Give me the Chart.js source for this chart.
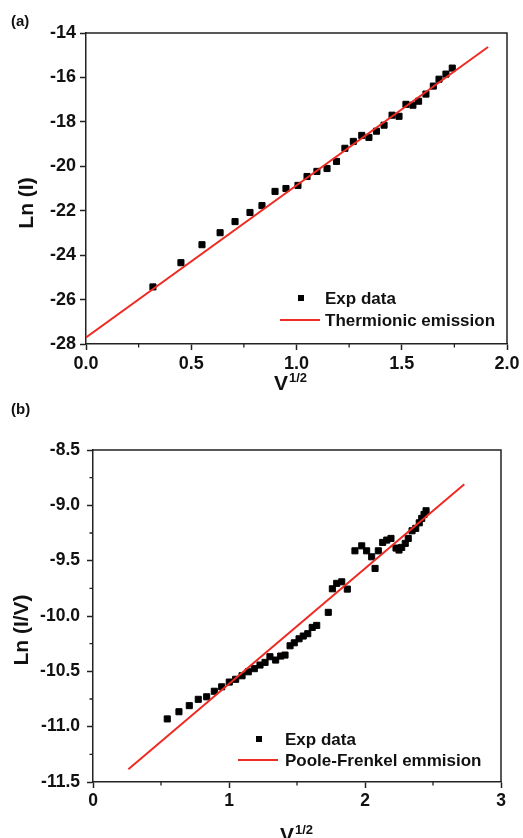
<!DOCTYPE html>
<html>
<head>
<meta charset="utf-8">
<script src="https://cdn.jsdelivr.net/npm/chart.js@4.4.1/dist/chart.umd.min.js"></script>
<style>
  html, body { margin: 0; padding: 0; background: #fff; }
  canvas { position: absolute; left: 0; }
  #chartA { top: 0; }
  #chartB { top: 400px; }
</style>
</head>
<body>
<canvas id="chartA" width="523" height="400"></canvas>
<canvas id="chartB" width="523" height="438"></canvas>
<script>
// ---- panel (a): Ln(I) vs V^1/2, thermionic emission fit
const expXa = [0.318, 0.451, 0.551, 0.637, 0.708, 0.779, 0.836, 0.898, 0.950, 1.007,
  1.050, 1.097, 1.145, 1.190, 1.230, 1.270, 1.310, 1.344, 1.380, 1.416,
  1.454, 1.487, 1.520, 1.553, 1.580, 1.615, 1.650, 1.677, 1.710, 1.740];
const expYa = [-25.43, -24.34, -23.53, -22.99, -22.49, -22.08, -21.77, -21.13, -21.00, -20.86,
  -20.46, -20.23, -20.10, -19.78, -19.19, -18.88, -18.61, -18.70, -18.42, -18.15,
  -17.70, -17.75, -17.21, -17.25, -17.07, -16.75, -16.39, -16.08, -15.85, -15.58];
const fitXa = [0, 1.91];
const fitYa = [-27.71, -14.63];
const xTicksA = [0, 0.5, 1.0, 1.5, 2.0];
const xMinorA = [0.25, 0.75, 1.25, 1.75];
const yTicksA = [-28, -26, -24, -22, -20, -18, -16, -14];

// ---- panel (b): Ln(I/V) vs V^1/2, Poole-Frenkel fit
const expXb = [0.546, 0.632, 0.708, 0.774, 0.836, 0.892, 0.946, 1.002, 1.049, 1.096,
  1.142, 1.186, 1.228, 1.265, 1.301, 1.343, 1.380, 1.412, 1.449, 1.480,
  1.515, 1.546, 1.579, 1.612, 1.645, 1.730, 1.760, 1.792, 1.829, 1.870,
  1.926, 1.976, 2.012, 2.049, 2.074, 2.098, 2.130, 2.160, 2.191, 2.228,
  2.250, 2.270, 2.296, 2.318, 2.346, 2.373, 2.399, 2.417, 2.434, 2.449];
const expYb = [-10.93, -10.865, -10.81, -10.753, -10.73, -10.68, -10.64, -10.597, -10.572, -10.54,
  -10.504, -10.476, -10.443, -10.419, -10.368, -10.398, -10.362, -10.353, -10.269, -10.242,
  -10.206, -10.181, -10.160, -10.103, -10.085, -9.967, -9.754, -9.705, -9.691, -9.757,
  -9.411, -9.366, -9.411, -9.465, -9.570, -9.411, -9.335, -9.314, -9.299, -9.386,
  -9.404, -9.380, -9.344, -9.299, -9.230, -9.208, -9.158, -9.118, -9.082, -9.049];
const fitXb = [0.26, 2.73];
const fitYb = [-11.385, -8.81];
const xTicksB = [0, 1, 2, 3];
const xMinorB = [0.5, 1.5, 2.5];
const yTicksB = [-11.5, -11.0, -10.5, -10.0, -9.5, -9.0, -8.5];
const yMinorB = [-11.25, -10.75, -10.25, -9.75, -9.25, -8.75];

const RED = '#ee2a22';
const AXIS = '#222';
const FONT = '"Liberation Sans", Arial, sans-serif';

Chart.defaults.font.family = FONT;
Chart.defaults.color = '#111';

const toPts = (xs, ys) => xs.map((x, i) => ({ x, y: ys[i] }));

// frame, minor ticks, legend and titles
const panelDecor = {
  id: 'panelDecor',
  afterDraw(chart, args, o) {
    const { ctx, chartArea: a } = chart;
    const xs = chart.scales.x, ys = chart.scales.y;
    ctx.save();
    ctx.strokeStyle = AXIS;
    ctx.lineWidth = 1.5;
    ctx.beginPath();
    ctx.moveTo(a.left, a.top);
    ctx.lineTo(a.right, a.top);
    ctx.lineTo(a.right, a.bottom);
    ctx.stroke();

    ctx.lineWidth = 1.3;
    ctx.beginPath();
    o.xMinor.forEach(v => {
      const px = xs.getPixelForValue(v);
      ctx.moveTo(px, a.bottom);
      ctx.lineTo(px, a.bottom + 3.5);
    });
    o.yMinor.forEach(v => {
      const py = ys.getPixelForValue(v);
      ctx.moveTo(a.left, py);
      ctx.lineTo(a.left - 3.5, py);
    });
    ctx.stroke();

    // legend
    const L = o.legend;
    ctx.fillStyle = '#000';
    ctx.fillRect(L.x - 3, L.y1 - 3, 6, 6);
    ctx.strokeStyle = RED;
    ctx.lineWidth = 2;
    ctx.beginPath();
    ctx.moveTo(L.x - 21, L.y2);
    ctx.lineTo(L.x + 19, L.y2);
    ctx.stroke();
    ctx.fillStyle = '#111';
    ctx.font = 'bold 17px ' + FONT;
    ctx.textAlign = 'left';
    ctx.textBaseline = 'middle';
    ctx.fillText(chart.data.datasets[0].label, L.tx, L.y1 + 1);
    ctx.fillText(chart.data.datasets[1].label, L.tx, L.y2 + 1);

    // y title
    ctx.save();
    ctx.translate(o.yTitle.x, o.yTitle.y);
    ctx.rotate(-Math.PI / 2);
    ctx.textAlign = 'center';
    ctx.font = 'bold 21px ' + FONT;
    ctx.fillText(o.yTitle.text, 0, 0);
    ctx.restore();

    // x title V^1/2
    ctx.textBaseline = 'alphabetic';
    ctx.textAlign = 'left';
    ctx.font = 'bold 21px ' + FONT;
    ctx.fillText('V', o.xTitle.x, o.xTitle.y);
    const w = ctx.measureText('V').width;
    ctx.font = 'bold 13px ' + FONT;
    ctx.fillText('1/2', o.xTitle.x + w + 1, o.xTitle.y - 8);

    // panel letter
    ctx.font = 'bold 15px ' + FONT;
    ctx.fillText(o.tag.text, o.tag.x, o.tag.y);
    ctx.restore();
  }
};

function axisCommon(fontSize) {
  return {
    type: 'linear',
    grid: { display: true, drawOnChartArea: false, drawTicks: true, tickLength: 6, tickWidth: 1.5, tickColor: AXIS },
    border: { display: true, color: AXIS, width: 1.5 },
    ticks: { font: { size: fontSize, weight: 'bold' }, color: '#111', autoSkip: false, maxRotation: 0, padding: 3 }
  };
}

function makePanel(id, p) {
  const x = axisCommon(p.fontSize);
  Object.assign(x, {
    min: p.xMin, max: p.xMax,
    afterBuildTicks: s => { s.ticks = p.xTicks.map(v => ({ value: v })); },
    afterFit: s => { s.height = p.xH; }
  });
  x.ticks.callback = p.xFmt;
  const y = axisCommon(p.fontSize);
  Object.assign(y, {
    min: p.yMin, max: p.yMax,
    afterBuildTicks: s => { s.ticks = p.yTicks.map(v => ({ value: v })); },
    afterFit: s => { s.width = p.yW; }
  });
  y.ticks.callback = p.yFmt;
  y.ticks.padding = p.yPad;

  return new Chart(document.getElementById(id), {
    type: 'scatter',
    data: {
      datasets: [
        { label: 'Exp data', data: p.exp, pointStyle: 'rect', pointRadius: 4.3,
          backgroundColor: '#000', borderColor: '#000', borderWidth: 1, order: 1 },
        { label: p.fitLabel, data: p.fit, showLine: true, borderColor: RED, borderWidth: 2,
          pointRadius: 0, order: 0 }
      ]
    },
    options: {
      responsive: false,
      animation: false,
      devicePixelRatio: 1,
      layout: { padding: p.padding },
      plugins: {
        legend: { display: false },
        tooltip: { enabled: false },
        panelDecor: p.decor
      },
      scales: { x, y }
    },
    plugins: [panelDecor]
  });
}

makePanel('chartA', {
  exp: toPts(expXa, expYa), fit: toPts(fitXa, fitYa), fitLabel: 'Thermionic emission',
  xMin: 0, xMax: 2, yMin: -28, yMax: -14,
  xTicks: xTicksA, yTicks: yTicksA,
  xFmt: v => v.toFixed(1), yFmt: v => String(v),
  fontSize: 18, yPad: 4, xH: 56, yW: 86,
  padding: { left: 0, right: 16, top: 33, bottom: 0 },
  decor: {
    xMinor: xMinorA, yMinor: [],
    legend: { x: 301, y1: 298, y2: 320, tx: 325 },
    yTitle: { text: 'Ln (I)', x: 27, y: 203 },
    xTitle: { x: 274, y: 390 },
    tag: { text: '(a)', x: 11, y: 26 }
  }
});

makePanel('chartB', {
  exp: toPts(expXb, expYb), fit: toPts(fitXb, fitYb), fitLabel: 'Poole-Frenkel emmision',
  xMin: 0, xMax: 3, yMin: -11.5, yMax: -8.5,
  xTicks: xTicksB, yTicks: yTicksB,
  xFmt: v => String(v), yFmt: v => v.toFixed(1),
  fontSize: 17.5, yPad: 7, xH: 56, yW: 93,
  padding: { left: 0, right: 22, top: 50, bottom: 0 },
  decor: {
    xMinor: xMinorB, yMinor: yMinorB,
    legend: { x: 259, y1: 339, y2: 360, tx: 285 },
    yTitle: { text: 'Ln (I/V)', x: 22, y: 230 },
    xTitle: { x: 280, y: 442 },
    tag: { text: '(b)', x: 11, y: 14 }
  }
});
</script>
</body>
</html>
